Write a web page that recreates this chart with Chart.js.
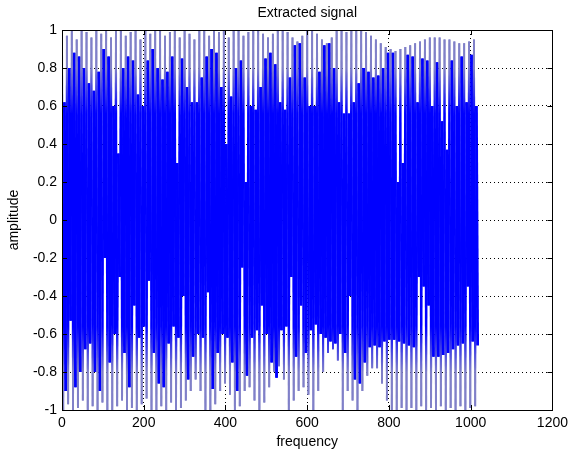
<!DOCTYPE html>
<html>
<head>
<meta charset="utf-8">
<script src="https://cdn.jsdelivr.net/npm/chart.js@4.4.0/dist/chart.umd.min.js"></script>
<style>
  body { margin: 0; background: #fff; }
</style>
</head>
<body>
<canvas id="mycanvas" width="573" height="453"></canvas>
<script>
// samples are 3 frequency units apart, 4 samples per cycle:
// top spike, bottom spike, inner top, inner bottom
var sampleStep = 3;

var topSpike = [
	1, 0.97, 1, 0.95, 1, 0.99, 0.96, 1, 0.98, 1,
	0.96, 1, 1, 0.97, 0.99, 1, 0.95, 1, 0.98, 1,
	1, 0.97, 0.99, 1, 0.96, 1, 0.98, 0.95, 1, 1,
	0.97, 1, 0.99, 1, 0.96, 1, 1, 0.97, 0.99, 1,
	1, 0.98, 0.96, 0.98, 1, 1, 0.99, 0.96, 0.94, 0.97,
	1, 1, 0.98, 0.95, 0.93, 0.96, 1, 1, 0.99, 1,
	1, 1, 0.99, 0.97, 0.95, 0.93, 0.91, 0.9, 0.89, 0.9,
	0.91, 0.92, 0.93, 0.94, 0.95, 0.96, 0.96, 0.96, 0.95, 0.95,
	0.94, 0.93, 0.93, 0.94, 0.95
];
var botSpike = [
	-1, -0.97, -1, -0.99, -0.95, -1, -0.98, -1, -0.96, -1,
	-1, -0.98, -0.95, -1, -0.99, -1, -0.97, -0.94, -1, -1,
	-0.98, -1, -0.96, -1, -0.99, -0.95, -0.9, -0.84, -0.9, -1,
	-1, -0.97, -0.9, -0.86, -0.92, -1, -0.98, -0.9, -0.88, -0.95,
	-1, -0.96, -0.88, -0.8, -0.77, -0.84, -1, -0.95, -0.9, -0.88,
	-0.92, -1, -0.9, -0.8, -0.7, -0.68, -0.74, -1, -0.9, -0.95,
	-1, -0.9, -0.82, -0.78, -0.78, -0.86, -0.95, -1, -1, -0.99,
	-1, -0.99, -1, -0.98, -1, -0.99, -1, -0.98, -1, -0.99,
	-1, -0.98, -1, -0.99, -0.98
];
var topInner = [
	0.62, 0.8, 0.88, 0.86, 0.8, 0.72, 0.68, 0.78, 0.9, 0.86,
	0.6, 0.35, 0.8, 0.86, 0.84, 0.66, 0.6, 0.84, 0.9, 0.8,
	0.74, 0.78, 0.86, 0.3, 0.85, 0.7, 0.62, 0.62, 0.75, 0.86,
	0.9, 0.88, 0.7, 0.4, 0.65, 0.8, 0.84, 0.2, 0.6, 0.58,
	0.7, 0.85, 0.88, 0.82, 0.62, 0.58, 0.75, 0.92, 0.93, 0.75,
	0.6, 0.6, 0.78, 0.92, 0.93, 0.8, 0.62, 0.56, 0.56, 0.62,
	0.72, 0.8, 0.78, 0.75, 0.76, 0.8, 0.88, 0.88, 0.2, 0.3,
	0.87, 0.86, 0.62, 0.85, 0.84, 0.6, 0.83, 0.52, 0.37, 0.84,
	0.6, 0.86, 0.62, 0.87, 0.6
];
var botInner = [
	-0.9, -0.53, -0.88, -0.8, -0.68, -0.65, -0.8, -0.9, -0.2, -0.75,
	-0.6, -0.3, -0.7, -0.88, -0.45, -0.62, -0.56, -0.32, -0.7, -0.86,
	-0.88, -0.65, -0.56, -0.62, -0.4, -0.84, -0.72, -0.6, -0.62, -0.38,
	-0.89, -0.7, -0.6, -0.62, -0.75, -0.9, -0.25, -0.82, -0.62, -0.58,
	-0.45, -0.6, -0.75, -0.83, -0.58, -0.56, -0.3, -0.72, -0.45, -0.7,
	-0.58, -0.55, -0.6, -0.62, -0.64, -0.65, -0.6, -0.7, -0.4, -0.84,
	-0.86, -0.75, -0.67, -0.66, -0.67, -0.64, -0.63, -0.63, -0.64, -0.65,
	-0.66, -0.67, -0.3, -0.35, -0.45, -0.72, -0.72, -0.71, -0.7, -0.68,
	-0.66, -0.65, -0.35, -0.64, -0.66
];

var xTicks = [0, 200, 400, 600, 800, 1000, 1200];
var yTicks = [-1, -0.8, -0.6, -0.4, -0.2, 0, 0.2, 0.4, 0.6, 0.8, 1];

var points = [];
for (var k = 0; k < topSpike.length; k++) {
	var x0 = k * 4 * sampleStep;
	points.push({x: x0, y: topSpike[k]});
	points.push({x: x0 + sampleStep, y: botSpike[k]});
	points.push({x: x0 + 2 * sampleStep, y: topInner[k]});
	points.push({x: x0 + 3 * sampleStep, y: botInner[k]});
}

Chart.defaults.font.family = "'Liberation Sans', Arial, sans-serif";
Chart.defaults.font.size = 14;
Chart.defaults.color = '#000';

var lineBlue = '#0000ff';
var spikeGrey = 'rgb(128,128,200)';

function plainLabel(v) {
	return String(Math.round(v * 10) / 10);
}

// thin spike strokes look greyish in the original, the body stays pure blue
var grads = {};
var gradPlugin = {
	id: 'grads',
	afterLayout: function(chart) {
		var c = chart.ctx, a = chart.chartArea;
		function make(topGrey, botGrey) {
			var g = c.createLinearGradient(0, a.top, 0, a.bottom);
			g.addColorStop(0, topGrey ? spikeGrey : lineBlue);
			g.addColorStop(0.1, topGrey ? spikeGrey : lineBlue);
			g.addColorStop(0.22, lineBlue);
			g.addColorStop(0.78, lineBlue);
			g.addColorStop(0.9, botGrey ? spikeGrey : lineBlue);
			g.addColorStop(1, botGrey ? spikeGrey : lineBlue);
			return g;
		}
		grads.both = make(true, true);
		grads.top = make(true, false);
		grads.bottom = make(false, true);
	}
};

function segColor(c) {
	var m = c.p0DataIndex % 4;
	if (m === 0) return grads.both || lineBlue;
	if (m === 1) return grads.bottom || lineBlue;
	if (m === 3) return grads.top || lineBlue;
	return lineBlue;
}

// box and inward tick marks like matlab, drawn over the data
var boxPlugin = {
	id: 'box',
	afterDatasetsDraw: function(chart) {
		var ctx = chart.ctx, a = chart.chartArea;
		var xs = chart.scales.x, ys = chart.scales.y;
		ctx.save();
		ctx.strokeStyle = '#000';
		ctx.lineWidth = 1;
		ctx.beginPath();
		xTicks.forEach(function(v) {
			var p = Math.round(xs.getPixelForValue(v)) + 0.5;
			ctx.moveTo(p, a.bottom); ctx.lineTo(p, a.bottom - 5);
			ctx.moveTo(p, a.top); ctx.lineTo(p, a.top + 5);
		});
		yTicks.forEach(function(v) {
			var p = Math.round(ys.getPixelForValue(v)) + 0.5;
			ctx.moveTo(a.left, p); ctx.lineTo(a.left + 5, p);
			ctx.moveTo(a.right, p); ctx.lineTo(a.right - 5, p);
		});
		ctx.stroke();
		ctx.strokeRect(Math.round(a.left) + 0.5, Math.round(a.top) + 0.5,
			Math.round(a.right - a.left), Math.round(a.bottom - a.top));
		ctx.restore();
	}
};

var ctx = document.getElementById('mycanvas');

var signalChart = new Chart(ctx, {
	type: 'line',
	data: {
		datasets: [{
			label: 'signal',
			data: points,
			borderColor: lineBlue,
			borderWidth: 1.9,
			pointRadius: 0,
			fill: false,
			tension: 0,
			segment: {
				// the inner top -> inner bottom stroke is heavier, spikes stay thinner
				borderWidth: function(c) { return c.p0DataIndex % 4 === 2 ? 2.8 : 1.9; },
				borderColor: segColor
			}
		}]
	},
	options: {
		responsive: false,
		animation: false,
		devicePixelRatio: 1,
		layout: { padding: { left: 0, right: 15, top: 0, bottom: 0 } },
		plugins: {
			legend: { display: false },
			tooltip: { enabled: false }
		},
		scales: {
			x: {
				type: 'linear',
				position: 'bottom',
				min: 0,
				max: 1200,
				afterBuildTicks: function(s) { s.ticks = xTicks.map(function(v) { return {value: v}; }); },
				ticks: { padding: 5, maxRotation: 0, callback: plainLabel },
				grid: { color: '#000', drawTicks: false, lineWidth: 1 },
				border: { display: false, dash: [1, 3] },
				title: { display: true, text: 'frequency', padding: { top: 0, bottom: 2 } },
				afterFit: function(s) { s.height = 43; }
			},
			xTop: {
				type: 'linear',
				position: 'top',
				min: 0,
				max: 1200,
				ticks: { display: false },
				grid: { display: false, drawTicks: false },
				border: { display: false },
				title: { display: true, text: 'Extracted signal', padding: { top: 5, bottom: 0 } },
				afterFit: function(s) { s.height = 30; }
			},
			y: {
				type: 'linear',
				min: -1,
				max: 1,
				afterBuildTicks: function(s) { s.ticks = yTicks.map(function(v) { return {value: v}; }); },
				ticks: { padding: 5, callback: plainLabel },
				grid: { color: '#000', drawTicks: false, lineWidth: 1 },
				border: { display: false, dash: [1, 3] },
				title: { display: true, text: 'amplitude', padding: { top: 6, bottom: 0 } },
				afterFit: function(s) { s.width = 62; }
			}
		}
	},
	plugins: [gradPlugin, boxPlugin]
});
</script>
</body>
</html>
